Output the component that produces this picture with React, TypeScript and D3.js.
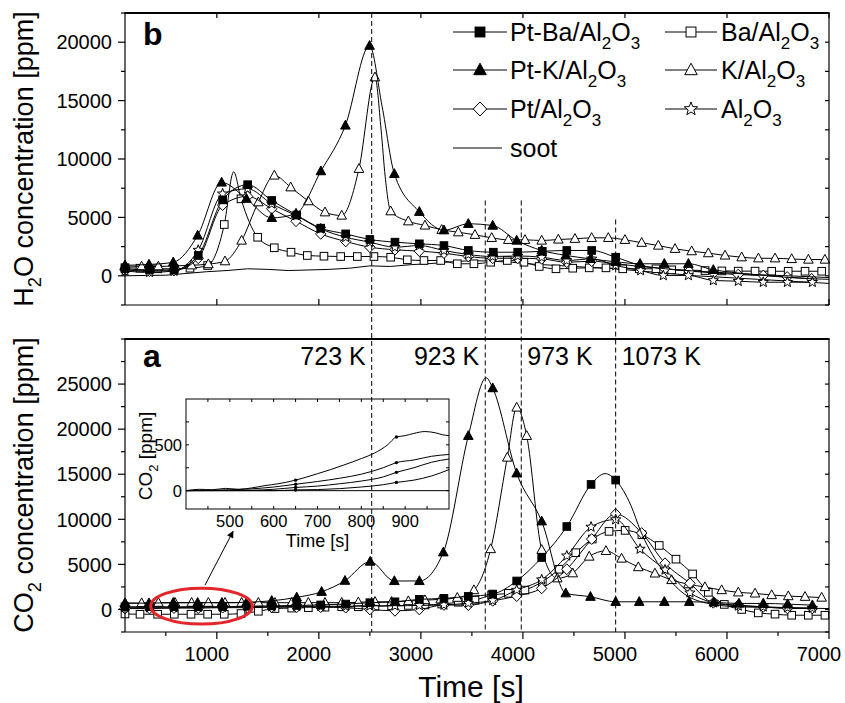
import React from "react";
import * as d3 from "d3";

type Pt = [number, number];

// ---------- panel b: H2O (ppm) vs time (s) ----------
const h2oPtBa: Pt[] = [[100,600],[340,500],[580,500],[818,1740],[1057,6500],[1302,7800],[1538,6450],[1783,5200],[2018,4080],[2263,3590],[2500,3110],[2746,2880],[2985,2740],[3226,2590],[3465,2170],[3710,2020],[3949,2020],[4190,2100],[4430,2170],[4674,2170],[4909,1590]];
const h2oPtBaTail: Pt[] = [[5150,900],[5400,600],[5700,400],[6000,250],[6300,100],[6600,0],[7000,-150]];
const h2oPtK: Pt[] = [[100,900],[335,970],[573,1160],[812,3450],[1047,7990],[1290,6600],[1538,4960],[1776,5330],[2020,8960],[2260,12870],[2497,19700],[2740,8730],[2985,5480],[3226,3900],[3465,4450],[3704,4300],[3939,3020],[4184,2170],[4420,1750],[4662,1450],[4909,1200],[5148,1030],[5386,1030],[5622,1030],[5866,510]];
const h2oPtKExtra: Pt[] = [[2620,14500],[6100,250],[6400,0],[6700,-200],[7000,-300]];
const h2oBa: Pt[] = [[100,700],[247,650],[420,600],[583,600],[737,650],[910,880],[1073,4390],[1237,6590],[1400,3300],[1563,2400],[1727,2020],[1887,1740],[2050,1680],[2214,1650],[2377,1650],[2540,1650],[2704,1590],[2867,1370],[3030,1310],[3194,1310],[3357,1030],[3520,1030],[3684,1160],[3847,1310],[4010,1160],[4160,800],[4324,600],[4488,650],[4650,680],[4814,680],[4978,600],[5140,600],[5304,600],[5458,510],[5620,480],[5785,450],[5950,420],[6110,400],[6275,400],[6438,390],[6600,390],[6765,390],[6928,390]];
const h2oBaSpike: Pt[] = [[1165,8900]];
const h2oK: Pt[] = [[100,850],[263,800],[427,800],[590,850],[753,900],[917,1000],[1080,1250],[1243,3020],[1407,6300],[1564,8590],[1724,7580],[1897,6390],[2060,5440],[2224,5160],[2393,9160],[2550,17000],[2704,5530],[2877,4670],[3040,4310],[3204,3940],[3367,3730],[3530,3510],[3694,3250],[3857,3080],[4020,3080],[4184,3020],[4347,3110],[4510,3170],[4674,3250],[4837,3250],[5000,3080],[5164,2830],[5327,2590],[5491,2310],[5654,2110],[5817,1940],[5981,1740],[6144,1590],[6308,1500],[6471,1500],[6634,1440],[6798,1390],[6960,1390]];
const h2oKFlank: Pt[] = [[2610,12500],[2650,8500]];
const h2oPt: Pt[] = [[100,500],[340,400],[580,450],[818,1500],[1057,6050],[1302,6800],[1538,5740],[1776,4670],[2018,3590],[2263,2940],[2500,2450],[2746,2230],[2985,2110],[3226,1940],[3465,1650],[3704,1500],[3949,1500],[4184,1450],[4430,1160],[4674,1250],[4909,1030],[5148,800],[5390,600],[5630,400],[5870,250],[6110,100],[6356,30],[6590,-100],[6830,-260]];
const h2oAl: Pt[] = [[100,400],[340,300],[580,400],[818,2200],[1057,7020],[1302,7450],[1538,6160],[1776,5160],[2018,4020],[2263,3300],[2500,2880],[2746,2450],[2985,2590],[3226,2170],[3465,1820],[3704,1650],[3949,1700],[4184,1590],[4430,1310],[4674,1450],[4909,880],[5154,450],[5376,30],[5622,30],[5866,-400],[6111,-460],[6356,-550],[6592,-550],[6837,-550]];
const h2oSoot: Pt[] = [[100,0],[300,30],[500,50],[700,200],[900,350],[1100,450],[1300,600],[1500,550],[1700,450],[1900,500],[2100,550],[2300,650],[2500,850],[2700,800],[2900,950],[3100,1050],[3300,1200],[3500,1300],[3700,1250],[3900,1150],[4100,1000],[4300,900],[4500,800],[4700,700],[4900,600],[5100,450],[5300,300],[5500,150],[5700,0],[5900,-100],[6100,-200],[6300,-300],[6500,-400],[6700,-500],[6900,-600],[7000,-650]];

// ---------- panel a: CO2 (ppm) vs time (s) ----------
const co2PtBa: Pt[] = [[100,300],[340,300],[580,300],[818,300],[1057,300],[1302,350],[1538,400],[1783,450],[2018,500],[2263,600],[2500,750],[2746,850],[2985,1120],[3226,1230],[3465,1450],[3704,1710],[3939,3160],[4184,5760],[4430,9200],[4668,13870],[4909,14350]];
const co2PtBaTail: Pt[] = [[4805,15070],[5060,11500],[5150,8800],[5340,4800],[5550,2000],[5800,700],[6100,300],[6500,200],[7000,100]];
const co2PtK: Pt[] = [[100,700],[335,700],[573,750],[812,750],[1050,750],[1293,800],[1538,960],[1783,1340],[2027,1960],[2256,3190],[2503,5310],[2740,3160],[2985,3160],[3220,6340],[3465,19260],[3704,24550],[3939,15100],[4184,9780],[4420,1800],[4662,1410],[4909,850],[5140,850],[5386,850],[5630,850],[5872,780],[6118,670],[6356,670],[6595,590],[6837,480]];
const co2PtKPeak: Pt[] = [[3640,25700]];
const co2Ba: Pt[] = [[100,-500],[247,-530],[420,-530],[583,-530],[747,-530],[910,-530],[1073,-530],[1237,-450],[1407,-200],[1570,100],[1734,150],[1897,200],[2060,250],[2224,300],[2387,300],[2550,350],[2713,400],[2877,450],[3040,500],[3204,600],[3367,800],[3530,1040],[3693,1600],[3857,1790],[4020,2150],[4190,3080],[4353,4460],[4518,6300],[4680,7810],[4844,8660],[5002,8770],[5166,8290],[5336,7100],[5500,5580],[5663,3940],[5817,1900],[5974,560],[6144,0],[6307,-380],[6471,-520],[6634,-640],[6797,-640],[6960,-640]];
const co2K: Pt[] = [[100,700],[263,700],[427,750],[590,750],[753,750],[917,750],[1080,750],[1243,750],[1407,750],[1570,750],[1734,750],[1897,750],[2060,750],[2224,750],[2387,800],[2550,850],[2713,850],[2877,930],[3040,1040],[3194,1120],[3357,1300],[3520,2150],[3684,6700],[3847,16850],[3939,22400],[4037,19260],[4184,6620],[4337,3460],[4488,4020],[4650,5870],[4814,6500],[4967,5650],[5131,4700],[5294,4000],[5457,3270],[5621,2800],[5784,2490],[5948,2150],[6111,1900],[6275,1780],[6438,1600],[6601,1480],[6765,1410],[6928,1320]];
const co2Pt: Pt[] = [[100,100],[340,100],[580,150],[818,150],[1057,200],[1302,200],[1538,250],[1783,250],[2018,250],[2263,200],[2500,0],[2746,-150],[2985,0],[3226,500],[3465,480],[3704,960],[3939,1480],[4184,2340],[4430,4460],[4674,7810],[4909,10600],[5164,8480],[5393,5130],[5637,2900],[5866,740],[6111,480],[6356,290],[6593,110],[6837,110]];
const co2Al: Pt[] = [[100,200],[340,200],[580,200],[818,250],[1057,250],[1302,300],[1538,300],[1783,350],[2018,350],[2263,350],[2500,400],[2746,400],[2985,450],[3226,500],[3465,700],[3704,1000],[3939,2150],[4184,3300],[4430,5950],[4668,9150],[4909,9970],[5148,6700],[5393,4390],[5637,1850],[5866,750],[6111,400],[6356,300],[6593,200],[6837,150]];

// ---------- inset: CO2 (ppm), 400-1000 s ----------
const inset1: Pt[] = [[400,0],[430,15],[460,10],[490,25],[520,15],[550,30],[580,55],[610,75],[650,115],[700,185],[730,230],[760,280],[800,350],[830,410],[860,500],[880,586],[900,600],[920,625],[945,645],[970,630],[985,610],[1000,600]];
const inset2: Pt[] = [[400,0],[500,10],[550,20],[600,40],[650,70],[700,100],[750,135],[800,180],[850,250],[880,306],[920,335],[960,375],[1000,395]];
const inset3: Pt[] = [[400,0],[550,5],[600,15],[650,35],[700,50],[750,75],[800,105],[850,150],[880,200],[920,250],[960,310],[1000,345]];
const inset4: Pt[] = [[400,0],[600,0],[650,8],[700,12],[750,22],[800,40],[850,65],[880,90],[920,115],[960,160],[1000,230]];
const insetBase: Pt[] = [[400,0],[1000,0]];
const insetDots: Pt[] = [[650,115],[880,586],[650,70],[880,306],[650,35],[880,200],[650,8],[880,90]];

// ---------- ticks, labels ----------
const xTicks = [1000, 2000, 3000, 4000, 5000, 6000, 7000];
const xMinor = [500, 1500, 2500, 3500, 4500, 5500, 6500];
const h2oTicks = [0, 5000, 10000, 15000, 20000];
const h2oMinor = [-2500, 2500, 7500, 12500, 17500, 22500];
const co2Ticks = [0, 5000, 10000, 15000, 20000, 25000];
const co2Minor = [-2500, 2500, 7500, 12500, 17500, 22500, 27500, 30000];
const insetXTicks = [500, 600, 700, 800, 900];
const insetXMinor = [450, 550, 650, 750, 850, 950];
const insetYTicks = [0, 500];
const insetYMinor = [250, 750];

// temperature steps: time, H2O value where the dashed line starts, label, side
const steps: { t: number; from: number; label: string; side: "left" | "right" }[] = [
  { t: 2518, from: 22500, label: "723 K", side: "left" },
  { t: 3631, from: 6450, label: "923 K", side: "left" },
  { t: 3984, from: 6450, label: "973 K", side: "right" },
  { t: 4909, from: 4820, label: "1073 K", side: "right" },
];

const legendItems: { label: string; shape: string | null; filled: boolean }[] = [
  { label: "Pt-Ba/Al_2O_3", shape: "square", filled: true },
  { label: "Ba/Al_2O_3", shape: "square", filled: false },
  { label: "Pt-K/Al_2O_3", shape: "triangle", filled: true },
  { label: "K/Al_2O_3", shape: "triangle", filled: false },
  { label: "Pt/Al_2O_3", shape: "diamond", filled: false },
  { label: "Al_2O_3", shape: "star", filled: false },
  { label: "soot", shape: null, filled: false },
];

const FONT = "'Liberation Sans', Arial, Helvetica, sans-serif";

const x = d3.scaleLinear().domain([100, 7000]).range([125, 829]);
const yTop = d3.scaleLinear().domain([-2500, 22500]).range([305, 13]);
const yBot = d3.scaleLinear().domain([-2500, 30000]).range([632, 339]);
const xIn = d3.scaleLinear().domain([400, 1000]).range([186, 449]);
const yIn = d3.scaleLinear().domain([-200, 1000]).range([509, 399]);

function rich(label: string, size: number) {
  const parts = label.split(/(_\d)/).filter(Boolean);
  const shift = size * 0.3;
  let low = false;
  return parts.map((p, i) => {
    if (p.startsWith("_")) {
      low = true;
      return <tspan key={i} fontSize={size * 0.68} dy={shift}>{p[1]}</tspan>;
    }
    const dy = low ? -shift : 0;
    low = false;
    return <tspan key={i} dy={dy}>{p}</tspan>;
  });
}

function Marker({ shape, filled, cx, cy, k = 1 }: { shape: string; filled: boolean; cx: number; cy: number; k?: number }) {
  const fill = filled ? "#000" : "#fff";
  const st = { fill, stroke: "#000", strokeWidth: 1 };
  if (shape === "square") {
    const h = 3.8 * k;
    return <rect x={cx - h} y={cy - h} width={2 * h} height={2 * h} {...st} />;
  }
  if (shape === "triangle") {
    const w = 4.8 * k;
    return <polygon points={`${cx},${cy - 5.2 * k} ${cx + w},${cy + 3.6 * k} ${cx - w},${cy + 3.6 * k}`} {...st} />;
  }
  if (shape === "diamond") {
    return <polygon points={`${cx},${cy - 5.4 * k} ${cx + 5.2 * k},${cy} ${cx},${cy + 5.4 * k} ${cx - 5.2 * k},${cy}`} {...st} />;
  }
  const pts = d3.range(10).map((i) => {
    const r = i % 2 === 0 ? 5.4 * k : 2.3 * k;
    const a = (Math.PI / 5) * i - Math.PI / 2;
    return `${cx + r * Math.cos(a)},${cy + r * Math.sin(a)}`;
  });
  return <polygon points={pts.join(" ")} {...st} />;
}

type Series = { marks: Pt[]; extra?: Pt[]; shape: string | null; filled: boolean; linear?: boolean };

function SeriesG({ s, y }: { s: Series; y: d3.ScaleLinear<number, number> }) {
  const all = [...s.marks, ...(s.extra || [])].sort((a, b) => a[0] - b[0]);
  const line = d3
    .line<Pt>()
    .x((d) => x(d[0]))
    .y((d) => y(d[1]))
    .curve(s.linear ? d3.curveLinear : d3.curveMonotoneX);
  return (
    <g>
      <path d={line(all) || ""} fill="none" stroke="#000" strokeWidth={1} />
      {s.shape &&
        s.marks.map((d, i) => <Marker key={i} shape={s.shape as string} filled={s.filled} cx={x(d[0])} cy={y(d[1])} />)}
    </g>
  );
}

const h2oSeries: Series[] = [
  { marks: h2oSoot, shape: null, filled: false, linear: true },
  { marks: h2oBa, extra: h2oBaSpike, shape: "square", filled: false },
  { marks: h2oK, extra: h2oKFlank, shape: "triangle", filled: false },
  { marks: h2oPt, shape: "diamond", filled: false },
  { marks: h2oAl, shape: "star", filled: false },
  { marks: h2oPtBa, extra: h2oPtBaTail, shape: "square", filled: true },
  { marks: h2oPtK, extra: h2oPtKExtra, shape: "triangle", filled: true },
];

const co2Series: Series[] = [
  { marks: co2Ba, shape: "square", filled: false },
  { marks: co2K, shape: "triangle", filled: false },
  { marks: co2Pt, shape: "diamond", filled: false },
  { marks: co2Al, shape: "star", filled: false },
  { marks: co2PtBa, extra: co2PtBaTail, shape: "square", filled: true },
  { marks: co2PtK, extra: co2PtKPeak, shape: "triangle", filled: true },
];

function Frame({ y, major, minor, labelsX }: { y: d3.ScaleLinear<number, number>; major: number[]; minor: number[]; labelsX: boolean }) {
  const [xl, xr] = x.range();
  const [yb, yt] = y.range();
  return (
    <g stroke="#000" strokeWidth={1.2}>
      <line x1={xl} x2={xl} y1={yb} y2={yt} />
      <line x1={xr} x2={xr} y1={yb} y2={yt} />
      <line x1={xl} x2={xr} y1={yb} y2={yb} />
      <line x1={xl - 0.6} x2={xr + 0.6} y1={yt} y2={yt} strokeWidth={2.2} />
      {major.map((v) => (
        <g key={v}>
          <line x1={xl - 7} x2={xl} y1={y(v)} y2={y(v)} />
          <text x={112} y={y(v)} dy="0.36em" textAnchor="end" stroke="none" fontSize={20}>{v}</text>
        </g>
      ))}
      {minor.map((v) => <line key={v} x1={xl - 4} x2={xl} y1={y(v)} y2={y(v)} />)}
      {[...major, ...minor].map((v) => <line key={"r" + v} x1={xr - 4} x2={xr} y1={y(v)} y2={y(v)} />)}
      {!labelsX && xTicks.map((t) => <line key={"t" + t} x1={x(t)} x2={x(t)} y1={yt} y2={yt + 5} />)}
      {!labelsX && xTicks.map((t) => <line key={"b" + t} x1={x(t)} x2={x(t)} y1={yb} y2={yb - 6} />)}
      {labelsX &&
        xTicks.map((t) => (
          <g key={"b" + t}>
            <line x1={x(t)} x2={x(t)} y1={yb} y2={yb + 7} />
            <text x={x(t) - 10} y={yb + 29} textAnchor="middle" stroke="none" fontSize={20}>{t}</text>
          </g>
        ))}
      {labelsX && xMinor.map((t) => <line key={"m" + t} x1={x(t)} x2={x(t)} y1={yb} y2={yb + 4} />)}
    </g>
  );
}

function Inset() {
  const line = d3
    .line<Pt>()
    .x((d) => xIn(d[0]))
    .y((d) => yIn(d[1]))
    .curve(d3.curveMonotoneX);
  const [l, r] = xIn.range();
  const [b, t] = yIn.range();
  return (
    <g>
      <g stroke="#000" strokeWidth={1}>
        <rect x={l} y={t} width={r - l} height={b - t} fill="none" />
        {[...insetXTicks, ...insetXMinor].map((v) => (
          <g key={v}>
            <line x1={xIn(v)} x2={xIn(v)} y1={b} y2={b - 3} />
            <line x1={xIn(v)} x2={xIn(v)} y1={t} y2={t + 3} />
          </g>
        ))}
        {[...insetYTicks, ...insetYMinor].map((v) => (
          <g key={v}>
            <line x1={l} x2={l + 3} y1={yIn(v)} y2={yIn(v)} />
            <line x1={r} x2={r - 3} y1={yIn(v)} y2={yIn(v)} />
          </g>
        ))}
      </g>
      {[inset1, inset2, inset3, inset4, insetBase].map((d, i) => (
        <path key={i} d={line(d) || ""} fill="none" stroke="#000" strokeWidth={1} />
      ))}
      {insetDots.map((d, i) => <circle key={i} cx={xIn(d[0])} cy={yIn(d[1])} r={1.7} fill="#000" />)}
      {insetXTicks.map((v) => (
        <text key={v} x={xIn(v)} y={527} textAnchor="middle" fontSize={16.5}>{v}</text>
      ))}
      {insetYTicks.map((v) => (
        <text key={v} x={l - 4} y={yIn(v)} dy="0.36em" textAnchor="end" fontSize={16.5}>{v}</text>
      ))}
      <text x={(l + r) / 2} y={547} textAnchor="middle" fontSize={18}>Time [s]</text>
      <text transform={`translate(152,${(t + b) / 2 + 2}) rotate(-90)`} textAnchor="middle" fontSize={19}>{rich("CO_2 [ppm]", 19)}</text>
    </g>
  );
}

export default function App() {
  const ellipse = { t: 850, v: 370, dt: 498, dv: 1990 };
  const arrowFrom: Pt = [884, 2700];
  const arrowTo: Pt = [1159, 8660];
  return (
    <svg width={845} height={703} style={{ position: "absolute", left: 0, top: 0, background: "#fff" }} fontFamily={FONT}>
      <defs>
        <marker id="ah" viewBox="0 0 10 10" refX="9" refY="5" markerWidth="9" markerHeight="7" orient="auto" markerUnits="userSpaceOnUse">
          <path d="M0,0 L10,5 L0,10 z" fill="#000" />
        </marker>
      </defs>
      <rect width={845} height={703} fill="#fff" />

      {/* panel b */}
      {h2oSeries.map((s, i) => <SeriesG key={i} s={s} y={yTop} />)}
      <Frame y={yTop} major={h2oTicks} minor={h2oMinor} labelsX={false} />
      <text x={143} y={45} fontSize={32} fontWeight="bold">b</text>

      {/* legend */}
      {legendItems.map((it, i) => {
        const col = i % 2;
        const row = Math.floor(i / 2);
        const cy = [32, 70, 109, 148][row];
        const x0 = col === 0 ? 453 : 665;
        const x1 = col === 0 ? (it.shape ? 507 : 502) : 717;
        const tx = col === 0 ? 510 : 721;
        return (
          <g key={i}>
            <line x1={x0} x2={x1} y1={cy} y2={cy} stroke="#000" strokeWidth={1} />
            {it.shape && <Marker shape={it.shape} filled={it.filled} cx={(x0 + x1) / 2} cy={cy} k={1.3} />}
            <text x={tx} y={cy + 9} fontSize={25}>{rich(it.label, 25)}</text>
          </g>
        );
      })}

      {/* panel a */}
      {co2Series.map((s, i) => <SeriesG key={i} s={s} y={yBot} />)}
      <Frame y={yBot} major={co2Ticks} minor={co2Minor} labelsX={true} />
      <text x={143} y={367} fontSize={32} fontWeight="bold">a</text>

      <Inset />

      {/* temperature steps */}
      {steps.map((s) => (
        <g key={s.label}>
          <line x1={x(s.t)} x2={x(s.t)} y1={yTop(s.from)} y2={yBot.range()[0]} stroke="#000" strokeWidth={1} strokeDasharray="5,3" />
          <text x={s.side === "left" ? x(s.t) - 6 : x(s.t) + 6} y={365} textAnchor={s.side === "left" ? "end" : "start"} fontSize={25}>{s.label}</text>
        </g>
      ))}

      {/* highlight */}
      <ellipse cx={x(ellipse.t)} cy={yBot(ellipse.v)} rx={x(ellipse.t + ellipse.dt) - x(ellipse.t)} ry={yBot(ellipse.v) - yBot(ellipse.v + ellipse.dv)} fill="none" stroke="#e3262a" strokeWidth={3} />
      <line x1={x(arrowFrom[0])} y1={yBot(arrowFrom[1])} x2={x(arrowTo[0])} y2={yBot(arrowTo[1])} stroke="#000" strokeWidth={1} markerEnd="url(#ah)" />

      {/* axis titles */}
      <text transform={`translate(33,159) rotate(-90)`} textAnchor="middle" fontSize={27}>{rich("H_2O concentration [ppm]", 27)}</text>
      <text transform={`translate(33,485) rotate(-90)`} textAnchor="middle" fontSize={27}>{rich("CO_2 concentration [ppm]", 27)}</text>
      <text x={471} y={697} textAnchor="middle" fontSize={30}>Time [s]</text>
    </svg>
  );
}
